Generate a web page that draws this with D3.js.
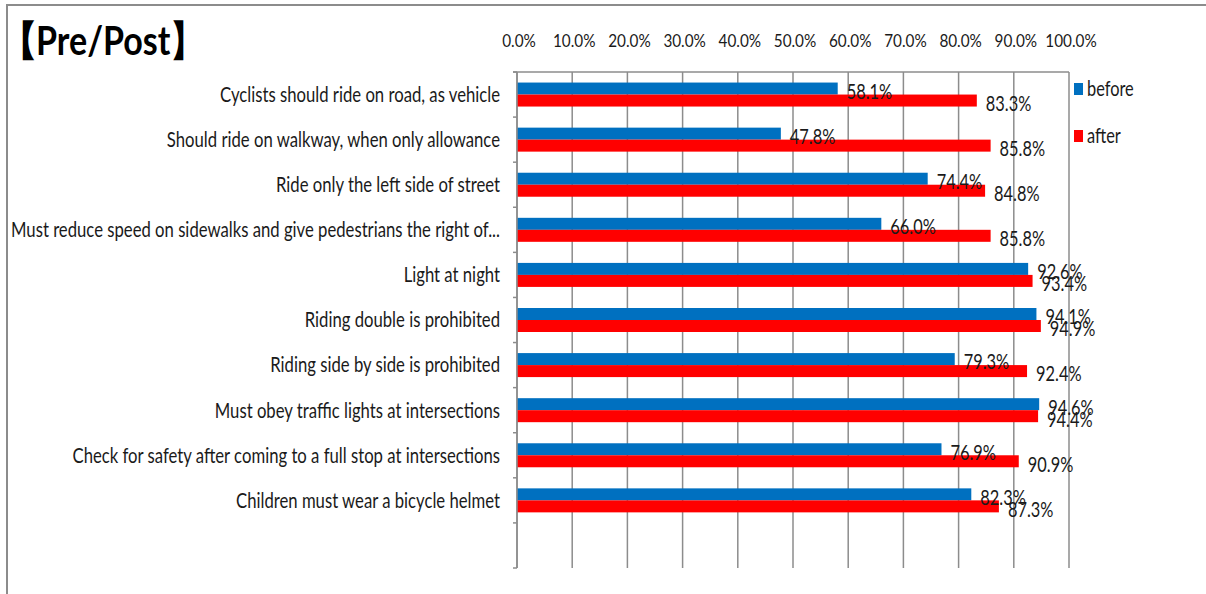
<!DOCTYPE html>
<html>
<head>
<meta charset="utf-8">
<script src="https://cdn.jsdelivr.net/npm/d3@7"></script>
<style>
  body { margin: 0; background: #fff; }
  text { font-family: Lato, "Open Sans", sans-serif; fill: #1a1a1a; }
</style>
</head>
<body>
<script>
const categories = [
  'Cyclists should ride on road, as vehicle',
  'Should ride on walkway, when only allowance',
  'Ride only the left side of street',
  'Must reduce speed on sidewalks and give pedestrians the right of...',
  'Light at night',
  'Riding double is prohibited',
  'Riding side by side is prohibited',
  'Must obey traffic lights at intersections',
  'Check for safety after coming to a full stop at intersections',
  'Children must wear a bicycle helmet'
];
const before = [58.1, 47.8, 74.4, 66.0, 92.6, 94.1, 79.3, 94.6, 76.9, 82.3];
const after = [83.3, 85.8, 84.8, 85.8, 93.4, 94.9, 92.4, 94.4, 90.9, 87.3];
const ticks = [0, 10, 20, 30, 40, 50, 60, 70, 80, 90, 100];
const seriesNames = ['before', 'after'];
const colors = ['#0070C0', '#FF0000'];

const width = 1206, height = 594;
const sx = 0.795; // the original font is narrow, squeeze text horizontally

const svg = d3.select('body').append('svg')
  .attr('width', width)
  .attr('height', height);

// outer frame (only top and left visible)
svg.append('path')
  .attr('d', `M7,${height} V5 H${width}`)
  .attr('fill', 'none')
  .attr('stroke', '#8c8c8c')
  .attr('stroke-width', 2);

// title, the opening bracket is anchored at its right side so nothing hangs off the edge
const title = svg.append('g')
  .style('font-family', '"Noto Sans CJK JP", sans-serif')
  .style('font-weight', 'bold')
  .style('font-size', '41px');
title.append('text')
  .attr('transform', 'translate(38,55) scale(0.95,1)')
  .attr('text-anchor', 'end')
  .style('fill', '#000')
  .text('【');
title.append('text')
  .attr('transform', 'translate(36,55) scale(0.83,1)')
  .style('fill', '#000')
  .text('Pre/Post】');

const plotLeft = 517, plotRight = 1069, plotTop = 72, plotBottom = 568;

const x = d3.scaleLinear().domain([0, 100]).range([plotLeft, plotRight]);
// one extra empty slot at the bottom, like the original
const y = d3.scaleBand().domain([...categories, '']).range([plotTop, plotBottom]);
const barH = 12;

// gridlines
svg.append('g')
  .selectAll('line')
  .data(ticks)
  .join('line')
  .attr('x1', d => x(d)).attr('x2', d => x(d))
  .attr('y1', plotTop).attr('y2', plotBottom)
  .attr('stroke', '#8c8c8c')
  .attr('stroke-width', 1.5);

// top axis line
svg.append('line')
  .attr('x1', plotLeft - 4).attr('x2', plotRight)
  .attr('y1', plotTop).attr('y2', plotTop)
  .attr('stroke', '#8c8c8c')
  .attr('stroke-width', 1.5);

// category ticks on the left axis
const boundaries = y.domain().map(d => y(d)).concat([plotBottom]);
svg.append('g')
  .selectAll('line')
  .data(boundaries)
  .join('line')
  .attr('x1', plotLeft - 4).attr('x2', plotLeft)
  .attr('y1', d => d).attr('y2', d => d)
  .attr('stroke', '#8c8c8c')
  .attr('stroke-width', 1.5);

// top tick labels
svg.append('g')
  .selectAll('text')
  .data(ticks)
  .join('text')
  .attr('transform', d => `translate(${x(d) + 2},47) scale(0.85,1)`)
  .attr('text-anchor', 'middle')
  .style('font-size', '18px')
  .text(d => d.toFixed(1) + '%');

// category labels
svg.append('g')
  .selectAll('text')
  .data(categories)
  .join('text')
  .attr('transform', d => `translate(500,${y(d) + y.bandwidth() / 2}) scale(${sx},1)`)
  .attr('dy', '0.35em')
  .attr('text-anchor', 'end')
  .style('font-size', '21px')
  .text(d => d);

const series = [before, after];
const barY = (i, si) => y(categories[i]) + y.bandwidth() / 2 - barH + si * barH;

// bars first, then all value labels on top
series.forEach((vals, si) => {
  svg.append('g')
    .selectAll('rect')
    .data(vals)
    .join('rect')
    .attr('x', x(0))
    .attr('y', (d, i) => barY(i, si))
    .attr('width', d => x(d) - x(0))
    .attr('height', barH)
    .attr('fill', colors[si]);
});
series.forEach((vals, si) => {
  svg.append('g')
    .selectAll('text')
    .data(vals)
    .join('text')
    .attr('transform', (d, i) => `translate(${x(d) + 9},${barY(i, si) + barH / 2 + 3}) scale(0.78,1)`)
    .attr('dy', '0.35em')
    .style('font-size', '21px')
    .text(d => d.toFixed(1) + '%');
});

// axis line over bars
svg.append('line')
  .attr('x1', plotLeft).attr('x2', plotLeft)
  .attr('y1', plotTop).attr('y2', plotBottom)
  .attr('stroke', '#8c8c8c')
  .attr('stroke-width', 1.5);

// legend
const legend = svg.append('g')
  .selectAll('g')
  .data(seriesNames)
  .join('g')
  .attr('transform', (d, i) => `translate(1074, ${89 + i * 47})`);
legend.append('rect')
  .attr('x', 0).attr('y', -6)
  .attr('width', 9).attr('height', 12)
  .attr('fill', (d, i) => colors[i]);
legend.append('text')
  .attr('transform', `translate(13,0) scale(0.78,1)`)
  .attr('dy', '0.35em')
  .style('font-size', '21px')
  .text(d => d);
</script>
</body>
</html>
